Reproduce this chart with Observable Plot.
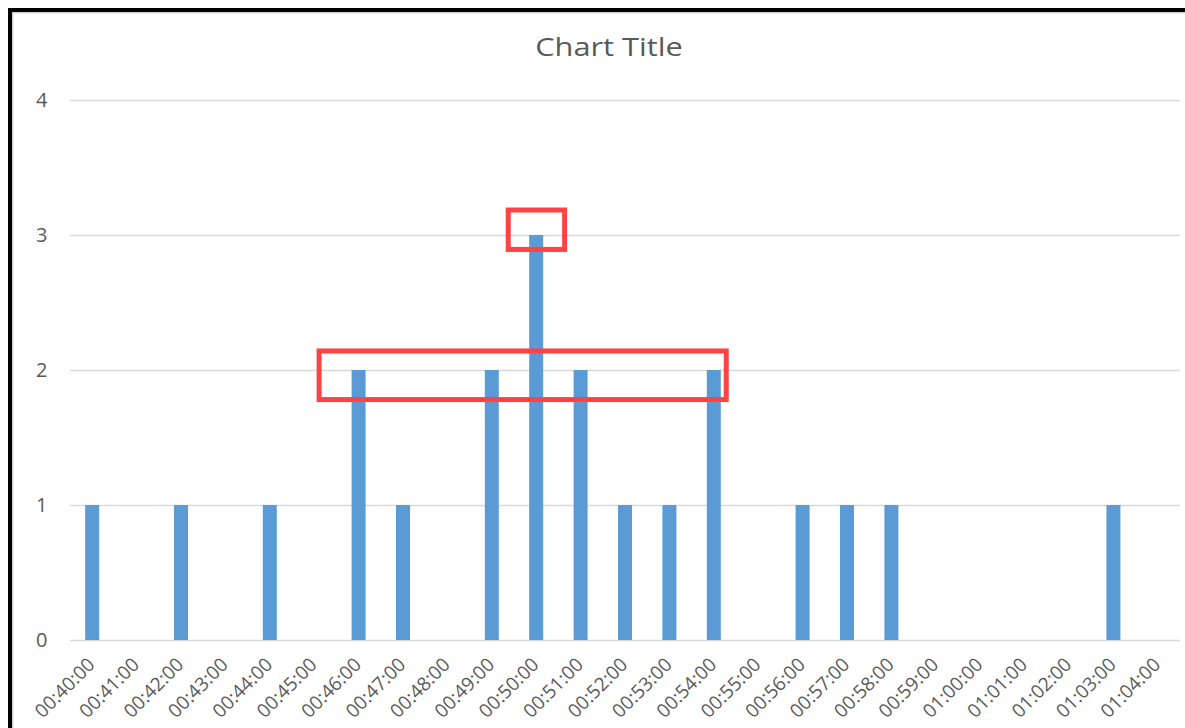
<!DOCTYPE html>
<html><head><meta charset="utf-8">
<script src="https://cdn.jsdelivr.net/npm/d3@7"></script>
<script src="https://cdn.jsdelivr.net/npm/@observablehq/plot@0.6"></script>
<style>
html,body{margin:0;padding:0;background:#fff;overflow:hidden;width:1185px;height:728px}
#wrap{position:relative;width:1185px;height:728px;overflow:hidden;background:#fff}
#frame{position:absolute;left:8px;top:8px;width:1220px;height:760px;border:4px solid #000;box-sizing:border-box;pointer-events:none;box-shadow:inset 1px 1px 2px rgba(0,0,0,0.25)}
#title{position:absolute;left:0;top:34px;width:1218px;text-align:center;font-family:"Open Sans";font-size:25px;line-height:25px;color:#595959;transform:scaleX(1.23);transform-origin:609px 0}
#chart{position:absolute;left:0;top:0}
</style>
</head><body>
<div id="wrap">
  <div id="chart"></div>
  <div id="title">Chart Title</div>
  <div id="frame"></div>
</div>
<script>
const times = ["00:40:00","00:41:00","00:42:00","00:43:00","00:44:00","00:45:00","00:46:00","00:47:00","00:48:00","00:49:00","00:50:00","00:51:00","00:52:00","00:53:00","00:54:00","00:55:00","00:56:00","00:57:00","00:58:00","00:59:00","01:00:00","01:01:00","01:02:00","01:03:00","01:04:00"];
const counts = [1,0,1,0,1,0,2,1,0,2,3,2,1,1,2,0,1,1,1,0,0,0,0,1,0];
const yTicks = [0,1,2,3,4];

// highlight boxes (annotations), in data terms: category + fraction of a step, value range
const boxFrom = ["00:50:00","00:46:00"];
const boxFromShift = [-0.63,-0.89];
const boxTo = ["00:50:00","00:54:00"];
const boxToShift = [0.64,0.28];
const boxLow = [2.893,1.781];
const boxHigh = [3.185,2.141];

const data = times.map((t,i)=>({time:t,count:counts[i]}));

const chart = Plot.plot({
  width:1185,
  height:728,
  marginLeft:70,
  marginRight:5,
  marginTop:100,
  marginBottom:88,
  style:{fontFamily:"Open Sans",color:"#595959",background:"transparent"},
  x:{type:"band",domain:times,paddingInner:0.685,paddingOuter:0.3425,round:false},
  y:{domain:[0,4]},
  marks:[
    Plot.ruleY(yTicks,{stroke:"#d9d9d9",strokeWidth:1.5}),
    Plot.barY(data,{x:"time",y:"count",fill:"#5b9bd5"}),
    Plot.axisY({ticks:yTicks,tickSize:0,tickPadding:23,label:null,fontSize:20,tickFormat:d=>String(d)}),
    Plot.axisX({tickRotate:-45,tickSize:0,tickPadding:21,label:null,fontSize:19,dx:-1})
  ]
});
document.getElementById("chart").appendChild(chart);

const sx = chart.scale("x"), sy = chart.scale("y");
const svg = d3.select(chart);
for (let i=0;i<boxFrom.length;i++){
  const x1 = sx.apply(boxFrom[i]) + sx.bandwidth/2 + boxFromShift[i]*sx.step;
  const x2 = sx.apply(boxTo[i]) + sx.bandwidth/2 + boxToShift[i]*sx.step;
  const y1 = sy.apply(boxHigh[i]), y2 = sy.apply(boxLow[i]);
  svg.append("rect").attr("x",x1).attr("y",y1).attr("width",x2-x1).attr("height",y2-y1)
    .attr("fill","none").attr("stroke","#ff4343").attr("stroke-width",5);
}
</script>
</body></html>
